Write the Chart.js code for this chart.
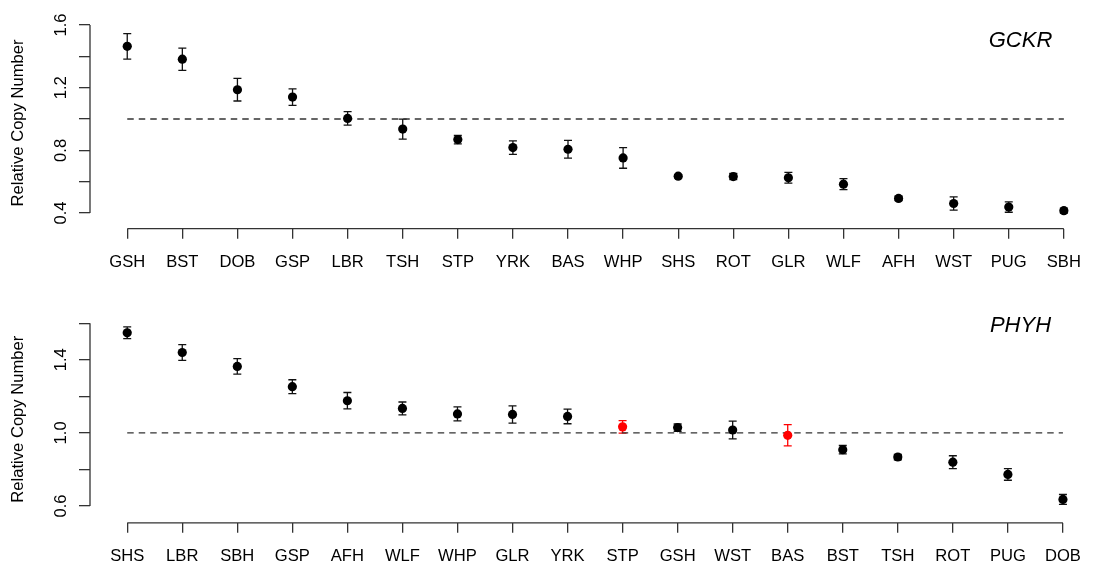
<!DOCTYPE html>
<html>
<head>
<meta charset="utf-8">
<script src="https://cdn.jsdelivr.net/npm/chart.js@4.4.1/dist/chart.umd.min.js"></script>
<style>
  html, body { margin: 0; padding: 0; background: #fff; }
  #wrap { position: relative; width: 1095px; height: 563px; overflow: hidden; }
  canvas { position: absolute; left: 0; display: block; }
  #c1 { top: 0; }
  #c2 { top: 282px; }
</style>
</head>
<body>
<div id="wrap">
  <canvas id="c1" width="1095" height="282"></canvas>
  <canvas id="c2" width="1095" height="281"></canvas>
</div>
<script>
// ---------------- DATA ----------------
const gckrBreeds = ['GSH','BST','DOB','GSP','LBR','TSH','STP','YRK','BAS','WHP','SHS','ROT','GLR','WLF','AFH','WST','PUG','SBH'];
const gckrMean   = [1.464,1.382,1.187,1.140,1.004,0.936,0.869,0.818,0.807,0.752,0.635,0.633,0.625,0.584,0.493,0.461,0.438,0.415];
const gckrErr    = [0.081,0.071,0.072,0.053,0.043,0.064,0.027,0.043,0.057,0.066,0.010,0.020,0.034,0.035,0.014,0.042,0.033,0.016];

const phyhBreeds = ['SHS','LBR','SBH','GSP','AFH','WLF','WHP','GLR','YRK','STP','GSH','WST','BAS','BST','TSH','ROT','PUG','DOB'];
const phyhMean   = [1.548,1.440,1.364,1.253,1.176,1.134,1.104,1.101,1.090,1.033,1.029,1.016,0.987,0.908,0.868,0.840,0.773,0.636];
const phyhErr    = [0.032,0.043,0.042,0.038,0.045,0.035,0.038,0.047,0.040,0.034,0.020,0.049,0.058,0.023,0.015,0.035,0.032,0.027];
const phyhHighlighted = ['STP','BAS'];

const gckrYTicks  = [0.4,0.6,0.8,1.0,1.2,1.4,1.6];
const gckrYLabels = ['0.4','','0.8','','1.2','','1.6'];
const phyhYTicks  = [0.6,0.8,1.0,1.2,1.4,1.6];
const phyhYLabels = ['0.6','','1.0','','1.4',''];

const referenceLevel = 1.0;
const yTitle = 'Relative Copy Number';

// ---------------- STYLE ----------------
const FONT = "'Liberation Sans', Arial, Helvetica, sans-serif";
Chart.defaults.font.family = FONT;
Chart.defaults.color = '#000';
const AXIS_COLOR = '#333';
const RED = '#ff0000';

function makePanel(canvasId, opts) {
  const { breeds, mean, err, highlighted, yTicks, yLabels, yMin, yMax,
          padTop, axisY, canvasH, gene, geneBaseline } = opts;
  const colors = breeds.map(b => highlighted.includes(b) ? RED : '#000');

  const panelPlugin = {
    id: 'panel_' + canvasId,
    beforeDatasetsDraw(chart) {
      const ctx = chart.ctx, xs = chart.scales.x, ys = chart.scales.y;
      ctx.save();
      ctx.lineWidth = 1.3;
      mean.forEach((m, i) => {
        const x = xs.getPixelForValue(i);
        const yt = ys.getPixelForValue(m + err[i]);
        const yb = ys.getPixelForValue(m - err[i]);
        ctx.strokeStyle = highlighted.includes(breeds[i]) ? RED : '#111';
        ctx.beginPath();
        ctx.moveTo(x, yt); ctx.lineTo(x, yb);
        ctx.moveTo(x - 4, yt); ctx.lineTo(x + 4, yt);
        ctx.moveTo(x - 4, yb); ctx.lineTo(x + 4, yb);
        ctx.stroke();
      });
      ctx.restore();
    },
    afterDraw(chart) {
      const ctx = chart.ctx, xs = chart.scales.x, ys = chart.scales.y;
      const area = chart.chartArea;
      ctx.save();
      // axis lines (R style: span first to last tick)
      ctx.strokeStyle = AXIS_COLOR;
      ctx.lineWidth = 1.3;
      ctx.beginPath();
      ctx.moveTo(area.left, ys.getPixelForValue(yTicks[0]));
      ctx.lineTo(area.left, ys.getPixelForValue(yTicks[yTicks.length - 1]));
      ctx.moveTo(xs.getPixelForValue(0), area.bottom);
      ctx.lineTo(xs.getPixelForValue(breeds.length - 1), area.bottom);
      ctx.stroke();
      // rotated y tick labels
      ctx.fillStyle = '#000';
      ctx.font = '16.6px ' + FONT;
      ctx.textAlign = 'center';
      ctx.textBaseline = 'middle';
      yTicks.forEach((v, i) => {
        if (!yLabels[i]) return;
        ctx.save();
        ctx.translate(61, ys.getPixelForValue(v));
        ctx.rotate(-Math.PI / 2);
        ctx.fillText(yLabels[i], 0, 0);
        ctx.restore();
      });
      // y title
      ctx.save();
      ctx.translate(18.5, (area.top + area.bottom) / 2);
      ctx.rotate(-Math.PI / 2);
      ctx.fillText(yTitle, 0, 0);
      ctx.restore();
      // gene name
      ctx.font = 'italic 22px ' + FONT;
      ctx.textBaseline = 'alphabetic';
      ctx.fillText(gene, 1020.5, geneBaseline);
      ctx.restore();
    }
  };

  return new Chart(document.getElementById(canvasId), {
    type: 'scatter',
    data: {
      datasets: [
        {
          data: mean.map((m, i) => ({ x: i, y: m })),
          pointRadius: 4.6,
          pointHoverRadius: 4.6,
          pointBackgroundColor: colors,
          pointBorderColor: colors,
          pointBorderWidth: 0,
          showLine: false
        },
        {
          data: breeds.map((b, i) => ({ x: i, y: referenceLevel })),
          showLine: true,
          borderColor: AXIS_COLOR,
          borderWidth: 1.4,
          borderDash: [6.5, 5],
          pointRadius: 0,
          fill: false
        }
      ]
    },
    options: {
      responsive: false,
      animation: false,
      events: [],
      layout: { padding: { top: padTop, left: 0, right: 0, bottom: 0 } },
      plugins: { legend: { display: false }, tooltip: { enabled: false } },
      scales: {
        x: {
          type: 'linear',
          min: -0.676,
          max: 17.34,
          afterBuildTicks: s => { s.ticks = breeds.map((b, i) => ({ value: i })); },
          afterFit: s => { s.height = canvasH - axisY; },
          ticks: {
            callback: (v, i) => breeds[i],
            autoSkip: false,
            maxRotation: 0,
            minRotation: 0,
            padding: 14,
            color: '#000',
            font: { size: 16.6 }
          },
          grid: { drawOnChartArea: false, drawTicks: true, tickLength: 10, color: AXIS_COLOR, lineWidth: 1.3 },
          border: { display: false }
        },
        y: {
          min: yMin,
          max: yMax,
          afterBuildTicks: s => { s.ticks = yTicks.map(v => ({ value: v })); },
          afterFit: s => { s.width = 90; },
          ticks: { display: false },
          grid: { drawOnChartArea: false, drawTicks: true, tickLength: 11, color: AXIS_COLOR, lineWidth: 1.3 },
          border: { display: false }
        }
      }
    },
    plugins: [panelPlugin]
  });
}

makePanel('c1', {
  breeds: gckrBreeds, mean: gckrMean, err: gckrErr, highlighted: [],
  yTicks: gckrYTicks, yLabels: gckrYLabels, yMin: 0.3, yMax: 1.65,
  padTop: 17.2, axisY: 228.7, canvasH: 282, gene: 'GCKR', geneBaseline: 46.6
});
makePanel('c2', {
  breeds: phyhBreeds, mean: phyhMean, err: phyhErr, highlighted: phyhHighlighted,
  yTicks: phyhYTicks, yLabels: phyhYLabels, yMin: 0.508, yMax: 1.642,
  padTop: 33.6, axisY: 240.8, canvasH: 281, gene: 'PHYH', geneBaseline: 50.1
});
</script>
</body>
</html>
